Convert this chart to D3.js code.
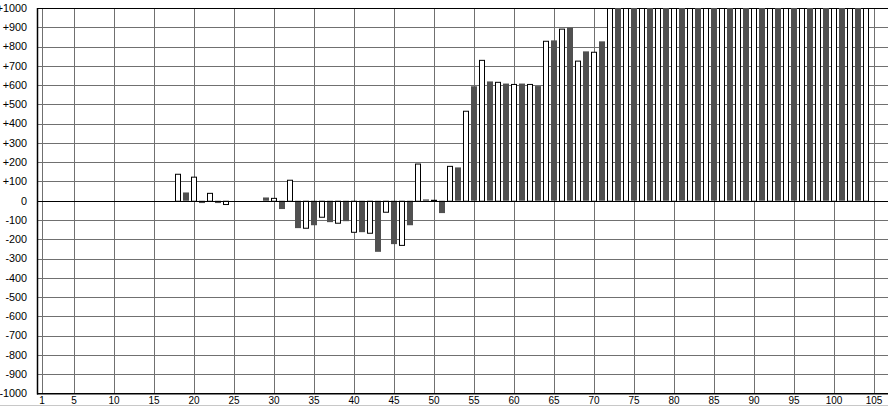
<!DOCTYPE html>
<html><head><meta charset="utf-8">
<script src="https://cdn.jsdelivr.net/npm/d3@7"></script>
<style>html,body{margin:0;padding:0;background:#fff;overflow:hidden}</style>
</head><body>
<svg id="c" width="888" height="406"></svg>
<script>
// ---- data ----
const whiteX    = [18,20,22,24,26,28,30,32,34,36,38,40,42,44,46,48,50,52,54,56,58,60,62,64,66,68,70,72,74,76,78,80,82,84,86,88,90,92,94,96,98,100,102,104];
const whiteVals = [140,125,41,-17,0,0,15,109,-140,-83,-114,-161,-166,-57,-229,193,5,181,467,731,617,606,606,830,893,727,773,1000,1000,1000,1000,1000,1000,1000,1000,1000,1000,1000,1000,1000,1000,1000,1000,1000];
const grayX     = [19,21,23,25,27,29,31,33,35,37,39,41,43,45,47,49,51,53,55,57,59,61,63,65,67,69,71,73,75,77,79,81,83,85,87,89,91,93,95,97,99,101,103];
const grayVals  = [43,-12,-12,0,0,17,-43,-142,-127,-111,-106,-163,-265,-225,-127,7,-64,173,594,619,608,608,595,832,898,775,827,1000,1000,1000,1000,1000,1000,1000,1000,1000,1000,1000,1000,1000,1000,1000,1000];
const xTicks = [1,5,10,15,20,25,30,35,40,45,50,55,60,65,70,75,80,85,90,95,100,105];
const yTicks = [-1000,-900,-800,-700,-600,-500,-400,-300,-200,-100,0,100,200,300,400,500,600,700,800,900,1000];

// ---- layout ----
const svg = d3.select("#c");
const x = d3.scaleLinear().domain([0.5, 106.75]).range([38, 888]);
const y = d3.scaleLinear().domain([-1000, 1000]).range([393.5, 8]);
const font = "'Liberation Sans', Arial, sans-serif";

// grid
const grid = svg.append("g");
grid.selectAll("line.v").data(xTicks).join("line")
  .attr("x1", d => Math.round(x(d)) + 0.5).attr("x2", d => Math.round(x(d)) + 0.5)
  .attr("y1", y(1000)).attr("y2", y(-1000))
  .attr("stroke", "#707070").attr("stroke-width", 1);
grid.selectAll("line.h").data(yTicks.filter(d => d !== 0 && d !== -1000)).join("line")
  .attr("x1", 38).attr("x2", 888)
  .attr("y1", d => Math.round(y(d)) + 0.5).attr("y2", d => Math.round(y(d)) + 0.5)
  .attr("stroke", d => d === 1000 ? "#000" : "#707070").attr("stroke-width", 1);

// bars
const bars = svg.append("g");
const wData = whiteX.map((d, i) => ({x: d, v: whiteVals[i]})).filter(d => d.v !== 0);
const gData = grayX.map((d, i) => ({x: d, v: grayVals[i]})).filter(d => d.v !== 0);
bars.selectAll("rect.g").data(gData).join("rect")
  .attr("x", d => x(d.x) - 3).attr("width", 6)
  .attr("y", d => Math.min(y(d.v), y(0))).attr("height", d => Math.abs(y(d.v) - y(0)))
  .attr("fill", "#505050");
bars.selectAll("rect.w").data(wData).join("rect")
  .attr("x", d => x(d.x) - 2.5).attr("width", 5)
  .attr("y", d => Math.min(y(d.v), y(0)) + 0.5).attr("height", d => Math.abs(y(d.v) - y(0)))
  .attr("fill", "#fff").attr("stroke", "#000").attr("stroke-width", 1);

// zero line
svg.append("line").attr("x1", 38).attr("x2", 888)
  .attr("y1", Math.round(y(0)) + 0.5).attr("y2", Math.round(y(0)) + 0.5)
  .attr("stroke", "#000").attr("stroke-width", 1.2);

// axes lines
svg.append("line").attr("x1", 37.5).attr("x2", 37.5).attr("y1", 8).attr("y2", 394.5)
  .attr("stroke", "#000").attr("stroke-width", 1.5);
svg.append("line").attr("x1", 37).attr("x2", 888).attr("y1", 393.8).attr("y2", 393.8)
  .attr("stroke", "#000").attr("stroke-width", 1.5);

// y labels
svg.append("g").selectAll("text").data(yTicks).join("text")
  .attr("x", 27).attr("y", d => y(d)).attr("dy", "0.35em")
  .attr("text-anchor", "end").attr("font-family", font).attr("font-size", 10.8)
  .attr("fill", "#000")
  .text(d => d > 0 ? "+" + d : String(d));

// x labels
svg.append("g").selectAll("text").data(xTicks).join("text")
  .attr("x", d => x(d)).attr("y", 400).attr("dy", "0.35em")
  .attr("text-anchor", "middle").attr("font-family", font).attr("font-size", 10)
  .attr("fill", "#000")
  .text(d => d);

svg.append("line").attr("x1", 0).attr("x2", 888).attr("y1", 405.5).attr("y2", 405.5)
  .attr("stroke", "#c8c8c8").attr("stroke-width", 1);
</script>
</body></html>
